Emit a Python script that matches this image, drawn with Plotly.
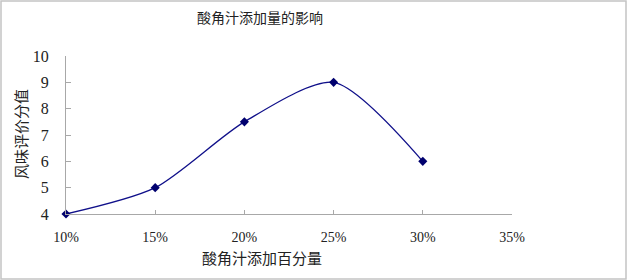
import plotly.graph_objects as go

x_vals = [10, 15, 20, 25, 30]
y_vals = [4, 5, 7.5, 9, 6]
x_ticks = [10, 15, 20, 25, 30, 35]
x_tick_text = ["10%", "15%", "20%", "25%", "30%", "35%"]
y_ticks = [4, 5, 6, 7, 8, 9, 10]

W, H = 627, 280
L, R, T, B = 66, 115, 56, 66
pw, ph = W - L - R, H - T - B

font_fam = "Liberation Serif, Noto Sans CJK SC, serif"

fig = go.Figure()
fig.add_trace(go.Scatter(
    x=x_vals, y=y_vals, mode="lines+markers",
    line=dict(color="#10108a", width=1.3, shape="spline", smoothing=0.75),
    marker=dict(symbol="diamond", size=7, color="#00006e"),
    showlegend=False, cliponaxis=False, hoverinfo="skip",
))

def px_x(p):
    return (p - L) / pw

def px_y(p):
    return (H - B - p) / ph

fig.update_layout(
    width=W, height=H,
    margin=dict(l=L, r=R, t=T, b=B),
    paper_bgcolor="white", plot_bgcolor="white",
    font=dict(family=font_fam, color="#222222", size=14),
    xaxis=dict(range=[10, 35], tickvals=x_ticks, ticktext=x_tick_text,
               showgrid=False, zeroline=False, showline=True, linecolor="#a8a8a8",
               linewidth=1, ticks="inside", ticklen=4, tickcolor="#a8a8a8",
               tickfont=dict(size=14), ticklabelstandoff=10),
    yaxis=dict(range=[4, 10], tickvals=y_ticks,
               showgrid=False, zeroline=False, showline=True, linecolor="#a8a8a8",
               linewidth=1, ticks="inside", ticklen=5, tickcolor="#a8a8a8",
               tickfont=dict(size=16), ticklabelstandoff=13),
    annotations=[
        dict(text="酸角汁添加量的影响", xref="paper", yref="paper",
             x=px_x(260), y=px_y(18), showarrow=False, xanchor="center", yanchor="middle",
             font=dict(size=14)),
        dict(text="酸角汁添加百分量", xref="paper", yref="paper",
             x=px_x(262), y=px_y(259), showarrow=False, xanchor="center", yanchor="middle",
             font=dict(size=15)),
        dict(text="风味评价分值", xref="paper", yref="paper", textangle=-90,
             x=px_x(22), y=px_y(134), showarrow=False, xanchor="center", yanchor="middle",
             font=dict(size=15)),
    ],
    shapes=[dict(type="rect", xref="paper", yref="paper",
                 x0=px_x(1), x1=px_x(626),
                 y0=px_y(279), y1=px_y(1),
                 line=dict(color="#c4c4c4", width=1.5), layer="below")],
)

fig.write_html("out.html", config={"displayModeBar": False, "staticPlot": True},
               post_script="document.body.style.margin='0';document.body.style.overflow='hidden';")
